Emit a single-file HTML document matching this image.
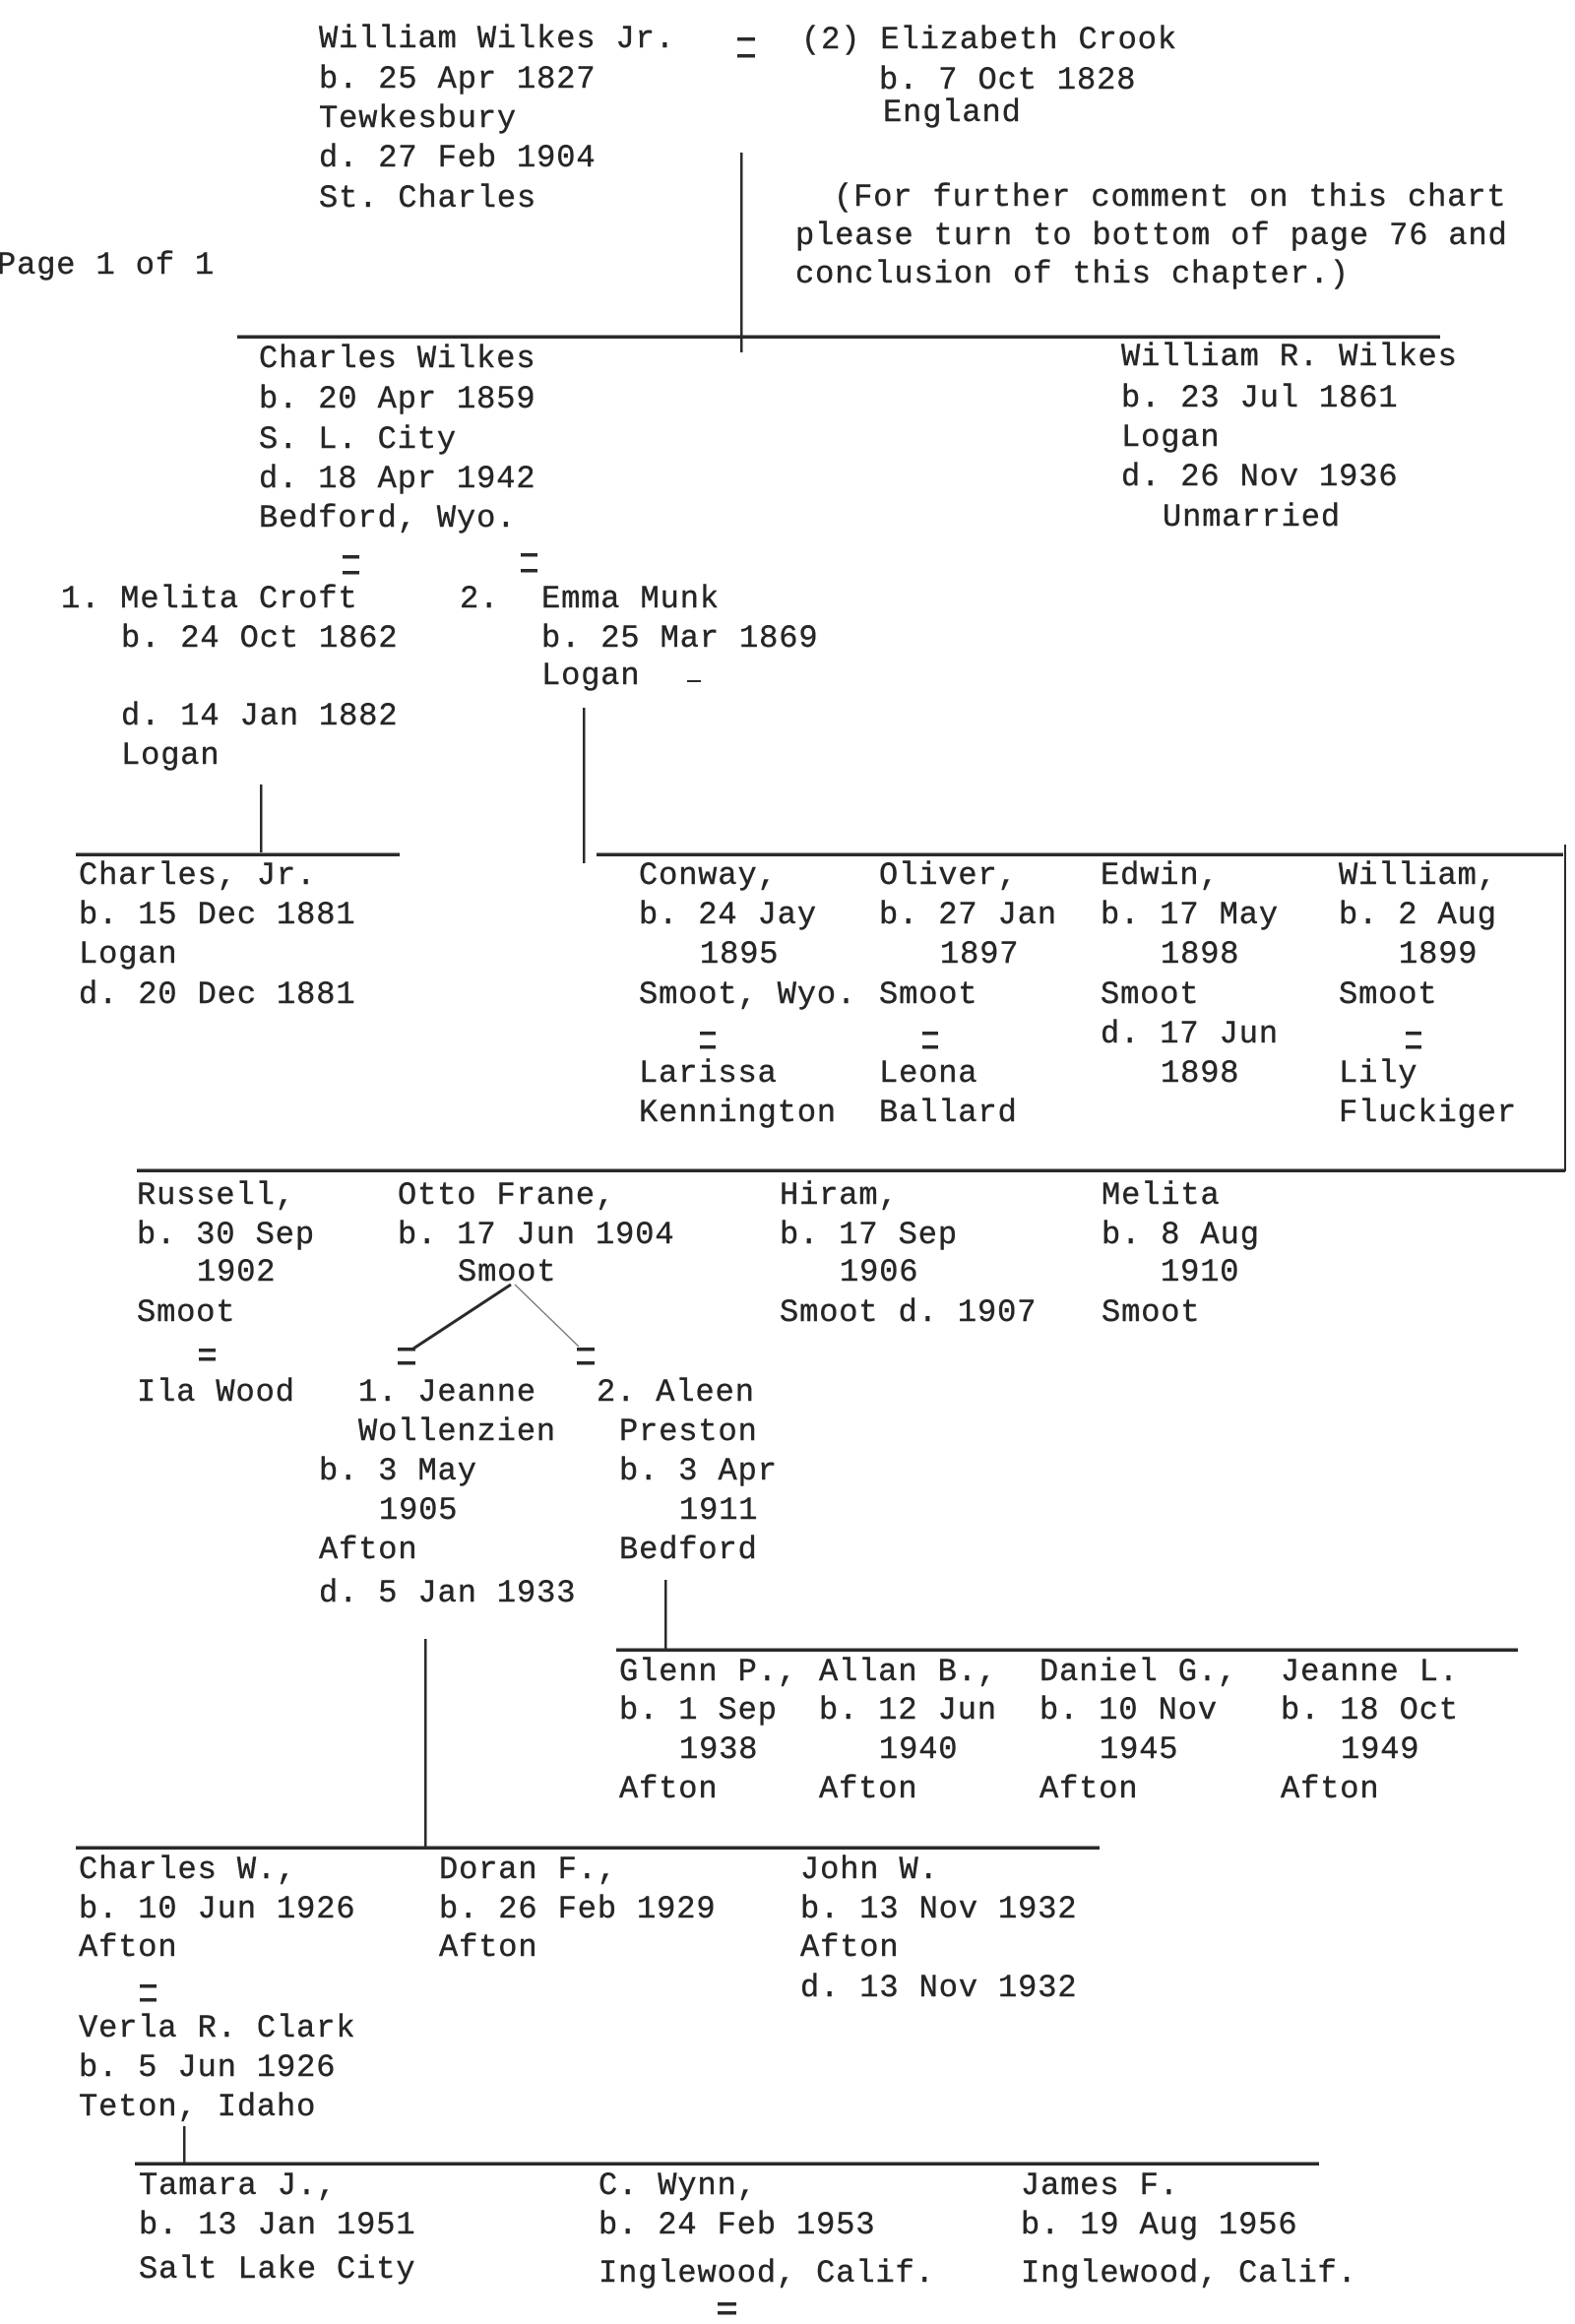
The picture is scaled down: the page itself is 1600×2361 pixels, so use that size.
<!DOCTYPE html>
<html>
<head>
<meta charset="utf-8">
<style>
  html, body { margin:0; padding:0; background:#ffffff; }
  body { width:1600px; height:2361px; overflow:hidden; position:relative; }
  svg { position:absolute; left:0; top:0; }
  text { font-family:"Liberation Mono", "DejaVu Sans Mono", monospace; font-size:32px; letter-spacing:0.9px; fill:#262626; stroke:#262626; stroke-width:0.4px; }
</style>
</head>
<body>
<svg width="1600" height="2361" viewBox="0 0 1600 2361" xmlns="http://www.w3.org/2000/svg">
  <!-- connector lines -->
  <g fill="#2a2a2a">
    <rect x="752" y="155" width="2.5" height="203"/>
    <rect x="241" y="340.5" width="1222" height="3.5"/>
    <rect x="592" y="719" width="2.5" height="158"/>
    <rect x="264" y="797" width="2.5" height="69"/>
    <rect x="77" y="866.5" width="329" height="3.5"/>
    <rect x="606" y="866.5" width="982" height="3.5"/>
    <rect x="1589" y="858" width="2" height="332"/>
    <rect x="139" y="1187.5" width="1451" height="3.5"/>
    <rect x="675" y="1605" width="2.5" height="71"/>
    <rect x="626" y="1674.5" width="916" height="3.5"/>
    <rect x="431" y="1665" width="2.5" height="212"/>
    <rect x="77" y="1875.5" width="1040" height="3.5"/>
    <rect x="186" y="2160" width="2.5" height="40"/>
    <rect x="137" y="2196.5" width="1203" height="3.5"/>
    <rect x="698" y="691" width="14" height="2"/>
  </g>
  <line x1="519" y1="1305" x2="420" y2="1370" stroke="#2a2a2a" stroke-width="3"/>
  <line x1="523" y1="1305" x2="588" y2="1368" stroke="#777" stroke-width="1.3"/>

  <!-- equals marks -->
  <g fill="#2a2a2a">
    <rect x="749" y="38" width="18" height="3.5"/><rect x="749" y="55" width="18" height="3.5"/>
    <rect x="348" y="564" width="17" height="3.5"/><rect x="348" y="580" width="17" height="3.5"/>
    <rect x="529" y="562" width="17" height="3.5"/><rect x="529" y="578" width="17" height="3.5"/>
    <rect x="711" y="1048" width="16" height="3.5"/><rect x="711" y="1062" width="16" height="3.5"/>
    <rect x="937" y="1048" width="16" height="3.5"/><rect x="937" y="1062" width="16" height="3.5"/>
    <rect x="1428" y="1048" width="16" height="3.5"/><rect x="1428" y="1062" width="16" height="3.5"/>
    <rect x="202" y="1370" width="17" height="3.5"/><rect x="202" y="1379" width="17" height="3.5"/>
    <rect x="404" y="1369" width="18" height="3.5"/><rect x="404" y="1383" width="18" height="3.5"/>
    <rect x="586" y="1369" width="18" height="3.5"/><rect x="586" y="1383" width="18" height="3.5"/>
    <rect x="142" y="2016" width="17" height="3.5"/><rect x="142" y="2030" width="17" height="3.5"/>
    <rect x="729" y="2339" width="19" height="3.5"/><rect x="729" y="2348" width="19" height="3.5"/>
  </g>

  <!-- top -->
  <text x="324" y="48">William Wilkes Jr.</text>
  <text x="324" y="89">b. 25 Apr 1827</text>
  <text x="324" y="129">Tewkesbury</text>
  <text x="324" y="169">d. 27 Feb 1904</text>
  <text x="324" y="210">St. Charles</text>

  <text x="814" y="49">(2) Elizabeth Crook</text>
  <text x="893" y="90">b. 7 Oct 1828</text>
  <text x="897" y="123">England</text>

  <text x="847" y="209">(For further comment on this chart</text>
  <text x="808" y="248">please turn to bottom of page 76 and</text>
  <text x="808" y="287">conclusion of this chapter.)</text>

  <text x="-3" y="278">Page 1 of 1</text>

  <!-- generation 2 -->
  <text x="263" y="373">Charles Wilkes</text>
  <text x="263" y="414">b. 20 Apr 1859</text>
  <text x="263" y="455">S. L. City</text>
  <text x="263" y="495">d. 18 Apr 1942</text>
  <text x="263" y="535">Bedford, Wyo.</text>

  <text x="1139" y="371">William R. Wilkes</text>
  <text x="1139" y="413">b. 23 Jul 1861</text>
  <text x="1139" y="453">Logan</text>
  <text x="1139" y="493">d. 26 Nov 1936</text>
  <text x="1181" y="534">Unmarried</text>

  <text x="62" y="617">1. Melita Croft</text>
  <text x="123" y="657">b. 24 Oct 1862</text>
  <text x="123" y="736">d. 14 Jan 1882</text>
  <text x="123" y="776">Logan</text>

  <text x="467" y="617">2.</text>
  <text x="550" y="617">Emma Munk</text>
  <text x="550" y="657">b. 25 Mar 1869</text>
  <text x="550" y="695">Logan</text>

  <!-- generation 3 row 1 -->
  <text x="80" y="898">Charles, Jr.</text>
  <text x="80" y="938">b. 15 Dec 1881</text>
  <text x="80" y="978">Logan</text>
  <text x="80" y="1019">d. 20 Dec 1881</text>

  <text x="649" y="898">Conway,</text>
  <text x="649" y="938">b. 24 Jay</text>
  <text x="711" y="978">1895</text>
  <text x="649" y="1019">Smoot, Wyo.</text>
  <text x="649" y="1099">Larissa</text>
  <text x="649" y="1139">Kennington</text>

  <text x="893" y="898">Oliver,</text>
  <text x="893" y="938">b. 27 Jan</text>
  <text x="955" y="978">1897</text>
  <text x="893" y="1019">Smoot</text>
  <text x="893" y="1099">Leona</text>
  <text x="893" y="1139">Ballard</text>

  <text x="1118" y="898">Edwin,</text>
  <text x="1118" y="938">b. 17 May</text>
  <text x="1179" y="978">1898</text>
  <text x="1118" y="1019">Smoot</text>
  <text x="1118" y="1059">d. 17 Jun</text>
  <text x="1179" y="1099">1898</text>

  <text x="1360" y="898">William,</text>
  <text x="1360" y="938">b. 2 Aug</text>
  <text x="1421" y="978">1899</text>
  <text x="1360" y="1019">Smoot</text>
  <text x="1360" y="1099">Lily</text>
  <text x="1360" y="1139">Fluckiger</text>

  <!-- generation 3 row 2 -->
  <text x="139" y="1223">Russell,</text>
  <text x="139" y="1263">b. 30 Sep</text>
  <text x="200" y="1301">1902</text>
  <text x="139" y="1342">Smoot</text>
  <text x="139" y="1423">Ila Wood</text>

  <text x="404" y="1223">Otto Frane,</text>
  <text x="404" y="1263">b. 17 Jun 1904</text>
  <text x="465" y="1301">Smoot</text>

  <text x="792" y="1223">Hiram,</text>
  <text x="792" y="1263">b. 17 Sep</text>
  <text x="853" y="1301">1906</text>
  <text x="792" y="1342">Smoot d. 1907</text>

  <text x="1119" y="1223">Melita</text>
  <text x="1119" y="1263">b. 8 Aug</text>
  <text x="1179" y="1301">1910</text>
  <text x="1119" y="1342">Smoot</text>

  <text x="364" y="1423">1. Jeanne</text>
  <text x="364" y="1463">Wollenzien</text>
  <text x="324" y="1503">b. 3 May</text>
  <text x="385" y="1543">1905</text>
  <text x="324" y="1583">Afton</text>
  <text x="324" y="1627">d. 5 Jan 1933</text>

  <text x="606" y="1423">2. Aleen</text>
  <text x="629" y="1463">Preston</text>
  <text x="629" y="1503">b. 3 Apr</text>
  <text x="690" y="1543">1911</text>
  <text x="629" y="1583">Bedford</text>

  <!-- Aleen's children -->
  <text x="629" y="1707">Glenn P.,</text>
  <text x="629" y="1746">b. 1 Sep</text>
  <text x="690" y="1786">1938</text>
  <text x="629" y="1826">Afton</text>

  <text x="832" y="1707">Allan B.,</text>
  <text x="832" y="1746">b. 12 Jun</text>
  <text x="893" y="1786">1940</text>
  <text x="832" y="1826">Afton</text>

  <text x="1056" y="1707">Daniel G.,</text>
  <text x="1056" y="1746">b. 10 Nov</text>
  <text x="1117" y="1786">1945</text>
  <text x="1056" y="1826">Afton</text>

  <text x="1301" y="1707">Jeanne L.</text>
  <text x="1301" y="1746">b. 18 Oct</text>
  <text x="1362" y="1786">1949</text>
  <text x="1301" y="1826">Afton</text>

  <!-- Jeanne's children -->
  <text x="80" y="1908">Charles W.,</text>
  <text x="80" y="1948">b. 10 Jun 1926</text>
  <text x="80" y="1987">Afton</text>
  <text x="80" y="2069">Verla R. Clark</text>
  <text x="80" y="2109">b. 5 Jun 1926</text>
  <text x="80" y="2149">Teton, Idaho</text>

  <text x="446" y="1908">Doran F.,</text>
  <text x="446" y="1948">b. 26 Feb 1929</text>
  <text x="446" y="1987">Afton</text>

  <text x="813" y="1908">John W.</text>
  <text x="813" y="1948">b. 13 Nov 1932</text>
  <text x="813" y="1987">Afton</text>
  <text x="813" y="2028">d. 13 Nov 1932</text>

  <!-- last generation -->
  <text x="141" y="2229">Tamara J.,</text>
  <text x="141" y="2269">b. 13 Jan 1951</text>
  <text x="141" y="2314">Salt Lake City</text>

  <text x="608" y="2229">C. Wynn,</text>
  <text x="608" y="2269">b. 24 Feb 1953</text>
  <text x="608" y="2318">Inglewood, Calif.</text>

  <text x="1037" y="2229">James F.</text>
  <text x="1037" y="2269">b. 19 Aug 1956</text>
  <text x="1037" y="2318">Inglewood, Calif.</text>
</svg>
</body>
</html>
